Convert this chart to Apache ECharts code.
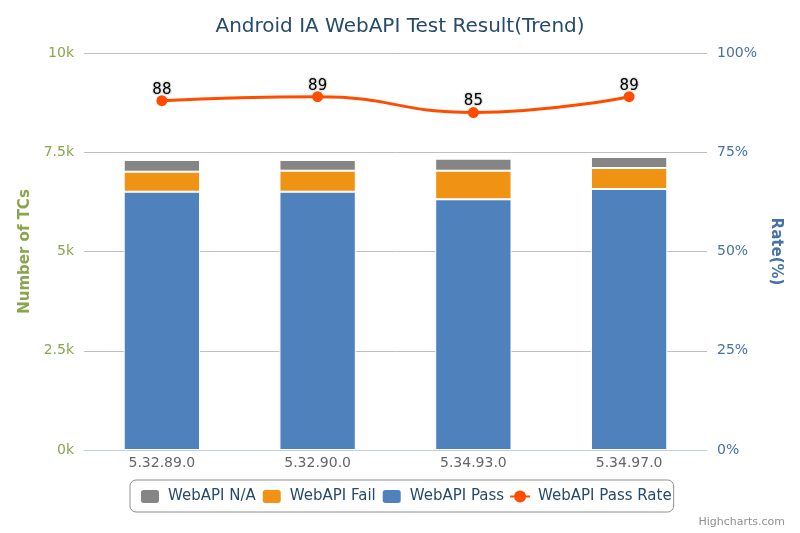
<!DOCTYPE html>
<html>
<head>
<meta charset="utf-8">
<script src="https://cdn.jsdelivr.net/npm/echarts@6/dist/echarts.min.js"></script>
<style>html,body{margin:0;padding:0;background:#fff}#c{width:800px;height:533px}</style>
</head>
<body>
<div id="c"></div>
<script>
var categories = ['5.32.89.0', '5.32.90.0', '5.34.93.0', '5.34.97.0'];
var naValues = [295, 270, 303, 277];
var failValues = [504, 529, 720, 529];
var passValues = [6506, 6506, 6315, 6574];
var passRate = [88, 89, 85, 89];
var leftTicks = [0, 2500, 5000, 7500, 10000];
var rightTicks = [0, 25, 50, 75, 100];

var font = 'DejaVu Sans';
var chart = echarts.init(document.getElementById('c'));
chart.setOption({
  animation: false,
  textStyle: { fontFamily: font },
  title: {
    text: 'Android IA WebAPI Test Result(Trend)',
    left: 'center', top: 12,
    textStyle: { fontFamily: font, fontSize: 20, fontWeight: 'normal', color: '#274b6d' }
  },
  legend: {
    bottom: 21, left: 130,
    data: ['WebAPI N/A', 'WebAPI Fail', 'WebAPI Pass', 'WebAPI Pass Rate'],
    borderColor: '#909090', borderWidth: 1, borderRadius: 6,
    padding: [8, 2, 7, 9],
    itemGap: 5, itemWidth: 20, itemHeight: 15,
    textStyle: { fontFamily: font, fontSize: 15, color: '#274b6d', padding: [0, 0, 0, 3] }
  },
  graphic: [{
    type: 'text', right: 15, bottom: 5,
    style: { text: 'Highcharts.com', fill: '#909090', font: '11px "DejaVu Sans"' }
  }],
  grid: { left: 84, right: 93, top: 53, bottom: 83 },
  xAxis: {
    type: 'category', data: categories,
    axisLine: { lineStyle: { color: '#C0D0E0' } },
    axisTick: { length: 10, lineStyle: { color: '#C0D0E0' } },
    axisLabel: { color: '#666666', fontSize: 14, margin: 6, fontFamily: font }
  },
  yAxis: [{
    type: 'value', min: leftTicks[0], max: leftTicks[leftTicks.length - 1], interval: 2500,
    name: 'Number of TCs', nameLocation: 'middle', nameRotate: 90, nameGap: 47,
    nameTextStyle: { color: '#89A54E', fontWeight: 'bold', fontSize: 15, fontFamily: font },
    axisLine: { show: false }, axisTick: { show: false },
    axisLabel: { color: '#89A54E', fontSize: 14, margin: 10, fontFamily: font,
      formatter: function (v) { return (v / 1000) + 'k'; } },
    splitLine: { lineStyle: { color: '#C0C0C0' } }
  }, {
    type: 'value', min: rightTicks[0], max: rightTicks[rightTicks.length - 1], interval: 25,
    name: 'Rate(%)', nameLocation: 'middle', nameRotate: -90, nameGap: 56,
    nameTextStyle: { color: '#4572A7', fontWeight: 'bold', fontSize: 15, fontFamily: font },
    axisLine: { show: false }, axisTick: { show: false },
    axisLabel: { color: '#4572A7', fontSize: 14, margin: 10, fontFamily: font, formatter: '{value}%' },
    splitLine: { show: false }
  }],
  series: [{
    name: 'WebAPI Pass', type: 'bar', stack: 'tc', data: passValues, barWidth: '49%',
    itemStyle: { color: '#4F81BD', borderColor: '#fff', borderWidth: 1 }
  }, {
    name: 'WebAPI Fail', type: 'bar', stack: 'tc', data: failValues,
    itemStyle: { color: '#F09214', borderColor: '#fff', borderWidth: 1 }
  }, {
    name: 'WebAPI N/A', type: 'bar', stack: 'tc', data: naValues,
    itemStyle: { color: '#858585', borderColor: '#fff', borderWidth: 1 }
  }, {
    name: 'WebAPI Pass Rate', type: 'line', yAxisIndex: 1, data: passRate, smooth: true,
    symbol: 'circle', symbolSize: 11,
    lineStyle: { color: '#FF4D00', width: 3 },
    itemStyle: { color: '#FF4D00' },
    label: { show: true, position: 'top', distance: -2, color: '#000', fontSize: 15, fontFamily: font,
      textBorderColor: '#fff', textBorderWidth: 1.5, textShadowColor: 'rgba(0,0,0,0.4)', textShadowBlur: 1 }
  }]
});
</script>
</body>
</html>
